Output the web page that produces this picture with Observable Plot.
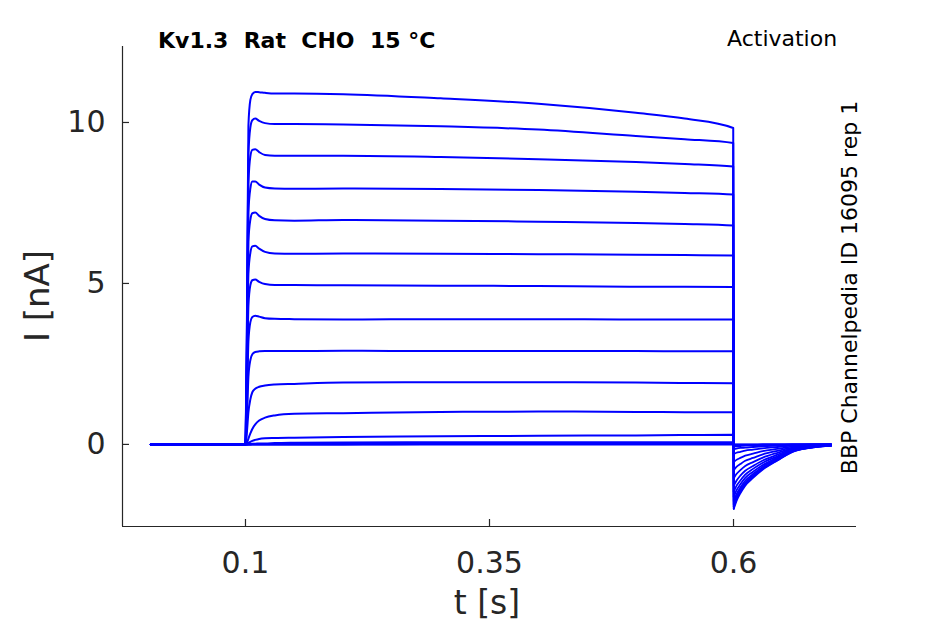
<!DOCTYPE html>
<html>
<head>
<meta charset="utf-8">
<script src="https://cdn.jsdelivr.net/npm/d3@7"></script>
<script src="https://cdn.jsdelivr.net/npm/@observablehq/plot@0.6"></script>
<style>
  html, body { margin: 0; padding: 0; background: #fff; }
  #chart { width: 945px; height: 624px; }
</style>
</head>
<body>
<div id="chart"></div>
<script>
// ---- data ----
const xTicks = [0.1, 0.35, 0.6];
const yTicks = [0, 5, 10];
const titleText = "Kv1.3  Rat  CHO  15 °C";
const protocolText = "Activation";
const sourceText = "BBP Channelpedia ID 16095 rep 1";

// sample times (s) of the voltage step part
const stepTimes = [0.003, 0.0998, 0.1002, 0.1015, 0.103, 0.105, 0.107, 0.11, 0.114, 0.12, 0.13, 0.15, 0.2, 0.3, 0.4, 0.5, 0.55, 0.5997];
// current (nA) of each sweep at stepTimes, smallest sweep first
const stepCurrents = [
  [0,0,0,0,0,0,0,0,0,0,0,0,0,0,0,0,0,0],
  [0,0,0,0,0,0,0,0,0,0,0,0,0,0.01,0.01,0.01,0.01,0.01],
  [0,0,0,0,0,0,0.01,0.01,0.01,0.01,0.01,0.02,0.02,0.02,0.03,0.03,0.03,0.03],
  [0,0,0,0,0.01,0.01,0.02,0.02,0.03,0.03,0.04,0.05,0.06,0.07,0.07,0.07,0.07,0.07],
  [0,0,0,0.01,0.04,0.08,0.11,0.14,0.17,0.19,0.2,0.21,0.23,0.25,0.27,0.28,0.29,0.3],
  [0,0,0,0.05,0.18,0.34,0.48,0.62,0.74,0.83,0.9,0.95,0.97,1.01,1.02,1.01,1.0,1.0],
  [0,0,0.02,0.4,1.0,1.4,1.62,1.73,1.79,1.83,1.86,1.88,1.92,1.93,1.93,1.92,1.91,1.9],
  [0,0,0.04,0.8,2.1,2.62,2.8,2.87,2.89,2.9,2.9,2.9,2.91,2.9,2.9,2.9,2.89,2.89],
  [0,0,0.06,1.2,3.2,3.8,3.96,4.0,3.97,3.92,3.9,3.89,3.88,3.89,3.89,3.88,3.88,3.88],
  [0,0,0.08,1.6,4.3,4.95,5.1,5.12,5.05,4.98,4.95,4.95,4.94,4.93,4.92,4.9,4.9,4.89],
  [0,0,0.1,2.0,5.3,5.95,6.15,6.17,6.08,5.98,5.93,5.92,5.93,5.92,5.91,5.89,5.88,5.87],
  [0,0,0.12,2.4,6.3,6.98,7.18,7.2,7.1,7.0,6.96,6.95,6.97,6.95,6.92,6.88,6.85,6.8],
  [0,0,0.15,2.8,7.2,7.95,8.17,8.17,8.07,7.98,7.95,7.94,7.95,7.93,7.9,7.85,7.81,7.76],
  [0,0,0.2,3.2,8.1,8.95,9.15,9.17,9.08,8.99,8.97,8.97,8.97,8.93,8.86,8.77,8.71,8.63],
  [0,0,0.2,3.6,9.0,9.85,10.07,10.12,10.05,9.98,9.95,9.95,9.94,9.88,9.78,9.58,9.48,9.36],
  [0,0,0.3,4.0,9.9,10.7,10.88,10.95,10.94,10.92,10.9,10.9,10.88,10.75,10.58,10.3,10.12,9.83]
];

// sample times (s) of the tail part
const tailTimes = [0.6003, 0.603, 0.607, 0.612, 0.62, 0.63, 0.645, 0.66, 0.68, 0.7];
// tail current (nA) of each sweep at tailTimes, smallest sweep first
const tailCurrents = [
  [0,0,0,0,0,0,0,0,0,0],
  [-0.01,-0.01,-0.01,-0.01,-0.01,0,0,0,0,0],
  [-0.03,-0.03,-0.02,-0.02,-0.02,-0.01,-0.01,0,0,0],
  [-0.07,-0.06,-0.05,-0.04,-0.04,-0.03,-0.02,-0.01,0,0],
  [-0.15,-0.13,-0.11,-0.1,-0.08,-0.06,-0.04,-0.02,-0.01,0],
  [-0.3,-0.26,-0.23,-0.19,-0.16,-0.12,-0.08,-0.04,-0.02,-0.01],
  [-0.55,-0.48,-0.42,-0.35,-0.29,-0.21,-0.14,-0.07,-0.03,-0.01],
  [-0.8,-0.7,-0.61,-0.51,-0.42,-0.31,-0.2,-0.1,-0.04,-0.02],
  [-1.05,-0.92,-0.8,-0.67,-0.55,-0.41,-0.26,-0.13,-0.05,-0.02],
  [-1.28,-1.13,-0.97,-0.82,-0.67,-0.5,-0.32,-0.15,-0.06,-0.03],
  [-1.47,-1.29,-1.12,-0.94,-0.76,-0.57,-0.37,-0.18,-0.07,-0.03],
  [-1.63,-1.43,-1.24,-1.04,-0.85,-0.64,-0.41,-0.2,-0.08,-0.03],
  [-1.76,-1.55,-1.34,-1.13,-0.92,-0.69,-0.44,-0.21,-0.09,-0.04],
  [-1.86,-1.64,-1.41,-1.19,-0.97,-0.73,-0.47,-0.22,-0.09,-0.04],
  [-1.94,-1.71,-1.47,-1.24,-1.01,-0.76,-0.49,-0.23,-0.1,-0.04],
  [-2.0,-1.76,-1.52,-1.28,-1.04,-0.78,-0.5,-0.24,-0.1,-0.04]
];

// ---- build tables ----
const stepRows = [];
stepCurrents.forEach((row, s) => {
  row.forEach((v, j) => stepRows.push({sweep: s, t: stepTimes[j], I: v}));
  // connect the end of the step to the start of the tail
  stepRows.push({sweep: s, t: tailTimes[0], I: tailCurrents[s][0]});
});
const tailRows = [];
tailCurrents.forEach((row, s) => {
  row.forEach((v, j) => tailRows.push({sweep: s, t: tailTimes[j], I: v}));
});

const W = 945, H = 624;
const mL = 122, mR = 89, mT = 46, mB = 98;
const xDomain = [-0.026, 0.726];
const yDomain = [-2.55, 12.36];
const axisColor = "#262626";
const traceColor = "#0000ff";

const plot = Plot.plot({
  width: W,
  height: H,
  marginLeft: mL,
  marginRight: mR,
  marginTop: mT,
  marginBottom: mB,
  x: {domain: xDomain},
  y: {domain: yDomain},
  style: {fontFamily: "DejaVu Sans, sans-serif", fontSize: "30px", color: axisColor, background: "#fff", overflow: "visible"},
  marks: [
    Plot.line(tailRows, {x: "t", y: "I", z: "sweep", stroke: traceColor, strokeWidth: 1.8, curve: "monotone-x"}),
    Plot.line(stepRows, {x: "t", y: "I", z: "sweep", stroke: traceColor, strokeWidth: 2, curve: "monotone-x", strokeLinejoin: "round"}),
    Plot.ruleX([xDomain[0]], {stroke: axisColor, strokeWidth: 1.2}),
    Plot.ruleY([yDomain[0]], {stroke: axisColor, strokeWidth: 1.2}),
    Plot.tickX(xTicks, {x: d => d, insetTop: H - mT - mB - 7, stroke: axisColor, strokeWidth: 1.2}),
    Plot.tickY(yTicks, {y: d => d, insetRight: W - mL - mR - 7, stroke: axisColor, strokeWidth: 1.2}),
    Plot.axisX({ticks: xTicks, tickSize: 0, tickPadding: 25, tickFormat: d => String(d), label: null}),
    Plot.axisY({ticks: yTicks, tickSize: 0, tickPadding: 17, tickFormat: d => String(d), label: null})
  ]
});

document.getElementById("chart").appendChild(plot);

const svg = d3.select(plot);
svg.append("text")
  .attr("x", 158).attr("y", 47.5)
  .attr("text-anchor", "start")
  .attr("font-family", "DejaVu Sans, sans-serif")
  .attr("font-size", 22).attr("font-weight", "bold")
  .attr("fill", "#000")
  .attr("xml:space", "preserve").style("white-space", "pre")
  .text(titleText);
svg.append("text")
  .attr("x", 727).attr("y", 46)
  .attr("text-anchor", "start")
  .attr("font-family", "DejaVu Sans, sans-serif")
  .attr("font-size", 22)
  .attr("fill", "#000")
  .text(protocolText);
svg.append("text")
  .attr("transform", "translate(857,287.5) rotate(-90)")
  .attr("text-anchor", "middle")
  .attr("font-family", "DejaVu Sans, sans-serif")
  .attr("font-size", 22)
  .attr("fill", "#000")
  .text(sourceText);
svg.append("text")
  .attr("x", 487).attr("y", 614)
  .attr("text-anchor", "middle")
  .attr("font-family", "DejaVu Sans, sans-serif")
  .attr("font-size", 33)
  .attr("fill", axisColor)
  .text("t [s]");
svg.append("text")
  .attr("transform", "translate(49,296) rotate(-90)")
  .attr("text-anchor", "middle")
  .attr("font-family", "DejaVu Sans, sans-serif")
  .attr("font-size", 34)
  .attr("fill", axisColor)
  .text("I [nA]");
</script>
</body>
</html>
